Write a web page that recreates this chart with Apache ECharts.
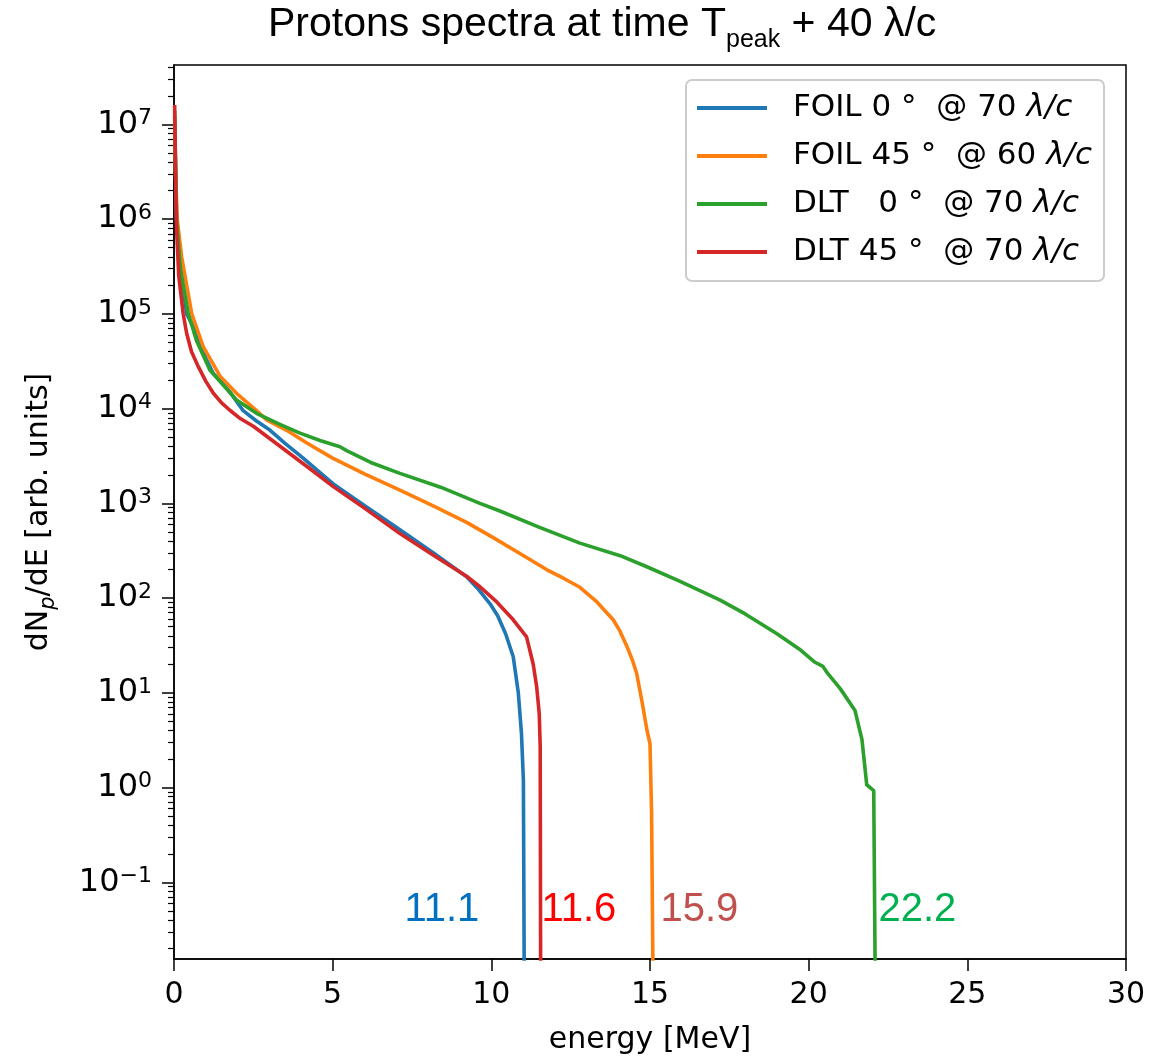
<!DOCTYPE html>
<html><head><meta charset="utf-8">
<script src="https://cdn.jsdelivr.net/npm/echarts@6/dist/echarts.min.js"></script>
<style>html,body{margin:0;padding:0;background:#fff}#c{width:1170px;height:1056px}</style>
</head><body><div id="c"></div>
<script>
// ---------- data ----------
const seriesNames = ['FOIL 0° @ 70 λ/c', 'FOIL 45° @ 60 λ/c', 'DLT 0° @ 70 λ/c', 'DLT 45° @ 70 λ/c'];

const foil0E = [0.02,0.05,0.08,0.19,0.40,0.71,1.0,1.24,1.5,1.76,2.18,2.6,3.03,3.5,4.07,4.5,5.02,6.0,7.12,8.2,9.22,9.6,9.96,10.2,10.45,10.69,10.85,10.95,11.01,11.05];
const foil0N = [1.2e7,3.5e6,1.0e6,3.2e5,1.0e5,6.2e4,3.4e4,2.34e4,1.9e4,1.5e4,9.5e3,7.4e3,5.9e3,4.3e3,3.0e3,2.25e3,1.6e3,950,525,295,168,123,87,65,42,24,10,3.7,1.2,0.001];

const foil45E = [0.02,0.05,0.1,0.24,0.56,0.92,1.45,1.97,2.6,2.92,3.55,4.2,5.0,6.0,7.12,8.2,9.22,10.06,10.9,11.74,12.3,12.79,13.3,13.6,13.84,14.05,14.27,14.45,14.58,14.75,14.9,15.0,15.05,15.12];
const foil45N = [1.0e7,3.0e6,1.0e6,4.0e5,1.0e5,4.5e4,2.2e4,1.45e4,9.5e3,7.6e3,5.9e3,4.3e3,3.0e3,2.05e3,1.38e3,930,630,435,295,200,160,130,93,72,59,45,31,22,16,8,4.1,2.9,0.54,0.001];

const dlt0E = [0.02,0.05,0.08,0.2,0.45,0.71,1.13,1.97,2.6,3.3,3.97,4.6,5.23,5.44,6.2,7.12,8.4,9.64,10.27,11.5,12.79,14.06,14.9,15.95,17.21,18.0,19.0,19.7,20.2,20.45,20.6,21.0,21.46,21.68,21.83,22.05,22.12];
const dlt0N = [1.4e7,3.5e6,1.0e6,3.0e5,1.0e5,5.2e4,2.55e4,1.23e4,8.9e3,6.9e3,5.5e3,4.6e3,3.95e3,3.6e3,2.7e3,2.07e3,1.48e3,1.0e3,830,560,380,280,214,150,95,68,42,29,21,19,16,11,6.5,3.2,1.07,0.93,0.001];

const dlt45E = [0.02,0.05,0.08,0.15,0.29,0.40,0.55,0.77,1.0,1.24,1.5,1.76,2.1,2.5,3.34,4.2,5.02,6.0,7.12,8.2,9.22,9.6,10.17,10.69,11.11,11.32,11.43,11.51,11.54,11.56];
const dlt45N = [1.6e7,3.0e6,8.0e5,2.5e5,1.0e5,6.2e4,4.0e4,2.75e4,1.95e4,1.45e4,1.15e4,9.6e3,7.8e3,6.5e3,4.0e3,2.43e3,1.5e3,890,479,280,170,135,91,59,39,20,11.5,6,2.7,0.001];

const cutoffLabels = ['11.1', '11.6', '15.9', '22.2'];
const cutoffLabelE = [7.26, 11.58, 15.33, 22.2];
const cutoffLabelN = [0.0516, 0.0516, 0.0516, 0.0516];
const cutoffLabelColors = ['#0070C0', '#FF0000', '#C0504D', '#00B050'];

const xTicks = [0, 5, 10, 15, 20, 25, 30];
const yMajorTicks = [0.1, 1, 10, 100, 1e3, 1e4, 1e5, 1e6, 1e7];
const yMin = 0.0155, yMax = 4.23e7;
// ---------------------------

const yMinorTicks = [];
for (let p = -2; p <= 7; p++) {
  for (let k = 2; k <= 9; k++) {
    const v = +(k * Math.pow(10, p)).toPrecision(6);
    if (v >= yMin && v <= yMax) yMinorTicks.push(v);
  }
}

const legendRich = {
  'FOIL 0° @ 70 λ/c': '{g| }{n|FOIL 0 °  @ 70 }{i|λ/c}',
  'FOIL 45° @ 60 λ/c': '{g| }{n|FOIL 45 °  @ 60 }{i|λ/c}',
  'DLT 0° @ 70 λ/c': '{g| }{n|DLT   0 °  @ 70 }{i|λ/c}',
  'DLT 45° @ 70 λ/c': '{g| }{n|DLT 45 °  @ 70 }{i|λ/c}'
};

const colors = ['#1f77b4', '#ff7f0e', '#2ca02c', '#d62728'];
const curves = [[foil0E, foil0N], [foil45E, foil45N], [dlt0E, dlt0N], [dlt45E, dlt45N]];

const series = curves.map((c, i) => ({
  name: seriesNames[i],
  type: 'line',
  xAxisIndex: 0, yAxisIndex: 0,
  data: c[0].map((e, j) => [e, c[1][j]]),
  showSymbol: false,
  symbol: 'none',
  clip: true,
  lineStyle: { width: 3.6, color: colors[i], join: 'round', cap: 'butt' },
  itemStyle: { color: colors[i] },
  emphasis: { disabled: true },
  z: 2 + i
}));

series.push({
  type: 'scatter',
  xAxisIndex: 0, yAxisIndex: 0,
  symbolSize: 0,
  silent: true,
  z: 10,
  itemStyle: { opacity: 1 },
  data: cutoffLabels.map((t, i) => ({
    value: [cutoffLabelE[i], cutoffLabelN[i]],
    label: { formatter: t, color: cutoffLabelColors[i] }
  })),
  label: {
    show: true, position: 'right', distance: 0, opacity: 1,
    fontFamily: 'Liberation Sans', fontSize: 40
  }
});

const supMap = {'-1': '−1'};
const chart = echarts.init(document.getElementById('c'), null, { renderer: 'canvas' });
chart.setOption({
  animation: false,
  color: colors,
  title: {
    text: 'Protons spectra at time T{sub|peak} + 40 λ/c',
    left: 268, top: -4, padding: 0,
    textStyle: {
      fontFamily: 'Liberation Sans', fontSize: 41, fontWeight: 'normal', color: '#000', lineHeight: 57,
      rich: { sub: { fontFamily: 'Liberation Sans', fontSize: 25, verticalAlign: 'bottom', lineHeight: 57, color: '#000' } }
    }
  },
  grid: { left: 174, right: 44, top: 65, bottom: 97, show: true, borderColor: '#000', borderWidth: 1.5, containLabel: false, outerBoundsMode: 'none' },
  legend: {
    data: seriesNames,
    orient: 'vertical',
    left: 686, top: 80,
    padding: [9, 12, 10, 11],
    itemGap: 10,
    itemWidth: 70, itemHeight: 4,
    icon: 'rect',
    backgroundColor: 'rgba(255,255,255,0.85)',
    borderColor: '#cccccc', borderWidth: 2, borderRadius: 6,
    formatter: name => legendRich[name],
    textStyle: {
      fontFamily: 'DejaVu Sans', fontSize: 31, color: '#000', lineHeight: 38,
      rich: {
        g: { width: 21, fontSize: 31, lineHeight: 38 },
        n: { fontFamily: 'DejaVu Sans', fontSize: 31, color: '#000', lineHeight: 38 },
        i: { fontFamily: 'DejaVu Sans', fontStyle: 'italic', fontSize: 31, color: '#000', lineHeight: 38 }
      }
    }
  },
  xAxis: {
    type: 'value', min: 0, max: 30, interval: 5,
    name: 'energy [MeV]', nameLocation: 'middle', nameGap: 66,
    nameTextStyle: { fontFamily: 'DejaVu Sans', fontSize: 30, color: '#000' },
    axisLine: { show: true, onZero: false, lineStyle: { color: '#000', width: 1.5 } },
    axisTick: { show: true, length: 12, lineStyle: { color: '#000', width: 1.5 } },
    axisLabel: { margin: 21, fontFamily: 'DejaVu Sans', fontSize: 30, color: '#000' },
    splitLine: { show: false }
  },
  yAxis: [{
    type: 'log', logBase: 10, min: yMin, max: yMax, position: 'left',
    name: 'dN{sub|p}/dE [arb. units]', nameLocation: 'middle', nameGap: 115,
    nameTextStyle: {
      fontFamily: 'DejaVu Sans', fontSize: 30, color: '#000', lineHeight: 40,
      rich: { sub: { fontFamily: 'DejaVu Sans', fontStyle: 'italic', fontSize: 21, verticalAlign: 'bottom', lineHeight: 40, color: '#000' } }
    },
    axisLine: { show: true, onZero: false, lineStyle: { color: '#000', width: 1.5 } },
    axisTick: { show: true, length: 12, customValues: yMajorTicks, lineStyle: { color: '#000', width: 1.5 } },
    axisLabel: {
      customValues: yMajorTicks, margin: 22, align: 'right',
      formatter: v => { const e = String(Math.round(Math.log10(v))); return '{b|10}{s|' + (supMap[e] || e) + '}'; },
      rich: {
        b: { fontFamily: 'DejaVu Sans', fontSize: 32, color: '#000', lineHeight: 34 },
        s: { fontFamily: 'DejaVu Sans', fontSize: 22, color: '#000', lineHeight: 34, verticalAlign: 'top' }
      }
    },
    splitLine: { show: false }
  }, {
    type: 'log', logBase: 10, min: yMin, max: yMax, position: 'left', offset: 0,
    axisLine: { show: false },
    axisTick: { show: true, length: 6, customValues: yMinorTicks, lineStyle: { color: '#000', width: 1.2 } },
    axisLabel: { show: false },
    splitLine: { show: false }
  }],
  series: series
});
</script>
</body></html>
